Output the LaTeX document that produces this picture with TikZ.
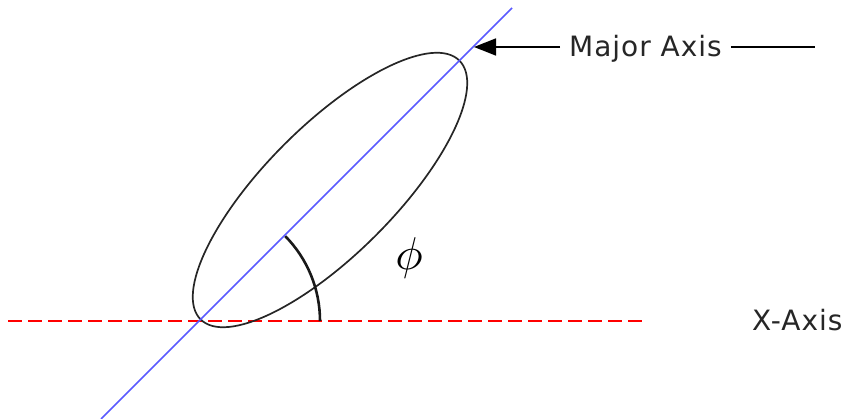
\documentclass[tikz,border=0pt]{standalone}
\usepackage{fontspec}
\setmainfont{DejaVu Sans}
\usetikzlibrary{arrows.meta}
\begin{document}
\begin{tikzpicture}[x=1pt,y=-1pt,
  lbl/.style={font=\fontsize{28}{31}\selectfont\addfontfeature{LetterSpace=3.5}, text=black!85, inner sep=0pt},
  majaxis/.style={draw={rgb,255:red,90;green,90;blue,255}, line width=1.5pt},
  xaxis/.style={draw=red, line width=2pt, dash pattern=on 14pt off 6pt},
  ellip/.style={draw=black!85, line width=1.7pt},
  anglearc/.style={draw=black!90, line width=2.6pt},
  pointer/.style={draw=black, line width=1.6pt}]
\useasboundingbox (0,0) rectangle (846,419);
% coordinates
\coordinate (C) at (330,190);
\coordinate (O) at (199,321);
\coordinate (blueB) at (101,419);
\coordinate (blueT) at (512,8);
\coordinate (xL) at (8,321);
\coordinate (xR) at (648,321);
\coordinate (tip) at (474,47);
\coordinate (rEnd) at (815,47);
% x axis
\draw[xaxis] (xL) -- (xR);
% ellipse
\draw[ellip, rotate around={45:(C)}] (C) ellipse [x radius=183pt, y radius=64.5pt];
% major axis line
\draw[majaxis] (blueB) -- (blueT);
% angle arc
\draw[anglearc] ([xshift=121pt]O) arc[start angle=0, end angle=44.5, radius=121pt];
% labels
\node[lbl, anchor=base west] (ma) at (569,57) {Major Axis};
\node[lbl, anchor=base west] (xa) at (752,331) {X-Axis};
\node[inner sep=0pt, anchor=base] (phi) at (409,270) {\scalebox{4.6}{$\phi$}};
% pointer lines
\draw[pointer, -{Triangle[length=22pt,width=17pt]}] ([xshift=-9pt]ma.west |- tip) -- (tip);
\draw[pointer] ([xshift=9pt]ma.east |- rEnd) -- (rEnd);
\end{tikzpicture}
\end{document}
